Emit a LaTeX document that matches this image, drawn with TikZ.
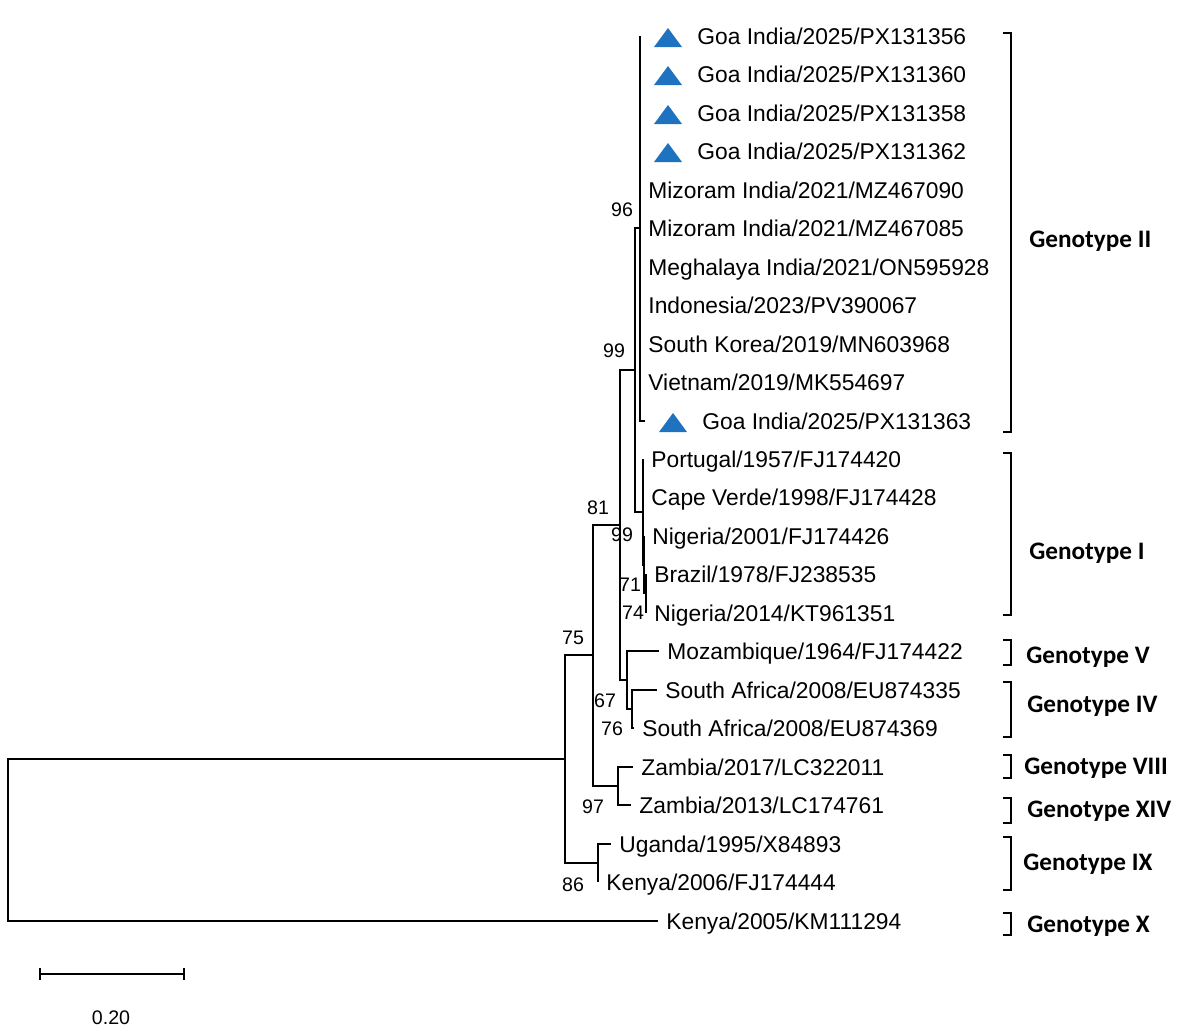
\documentclass[tikz,border=0pt]{standalone}
\usepackage{fontspec}
\setmainfont{Liberation Sans}
\newfontfamily\genofont{Carlito}
\usetikzlibrary{positioning}

\definecolor{goablue}{RGB}{30,114,192}

\tikzset{
    branch/.style={line width=0.65pt},
    taxon/.style={anchor=west, inner sep=0pt, text height=8.2pt, text depth=0pt, font=\fontsize{11.4}{13}\selectfont},
    boot/.style={inner sep=0pt, font=\fontsize{9.8}{11}\selectfont},
    clade/.style={line width=1.1pt},
    genotype/.style={anchor=west, inner sep=0pt, text height=7.9pt, text depth=0pt, font=\genofont\bfseries\fontsize{12.6}{14}\selectfont},
    goamark/.pic={\fill[goablue] (-14,11) -- (14,11) -- (0,-8) -- cycle;}
}

\begin{document}
\begin{tikzpicture}[x=0.5pt, y=-0.5pt]
    \useasboundingbox (0,0) rectangle (1181,1034);

    % Internal nodes
    \coordinate (root) at (8,840);
    \coordinate (n0) at (565,759);
    \coordinate (n75) at (593,655);
    \coordinate (n86) at (598,863);
    \coordinate (n81) at (620,525);
    \coordinate (n97) at (618,786);
    \coordinate (n99a) at (635,370);
    \coordinate (n67) at (627,680);
    \coordinate (n76) at (632,709);
    \coordinate (n96) at (640,228);
    \coordinate (n99b) at (643,512);
    \coordinate (n71) at (644,565);
    \coordinate (n74) at (646,593);

    % Leaves
    \coordinate (l1) at (640,36);
    \coordinate (l2) at (640,74);
    \coordinate (l3) at (640,113);
    \coordinate (l4) at (640,151);
    \coordinate (l5) at (640,190);
    \coordinate (l6) at (640,228);
    \coordinate (l7) at (640,267);
    \coordinate (l8) at (640,305);
    \coordinate (l9) at (640,344);
    \coordinate (l10) at (640,382);
    \coordinate (l11) at (645,421);
    \coordinate (l12) at (643,459);
    \coordinate (l13) at (643,497);
    \coordinate (l14) at (644,536);
    \coordinate (l15) at (646,574);
    \coordinate (l16) at (646,613);
    \coordinate (l17) at (659,651);
    \coordinate (l18) at (657,690);
    \coordinate (l19) at (634,728);
    \coordinate (l20) at (633,767);
    \coordinate (l21) at (631,805);
    \coordinate (l22) at (611,844);
    \coordinate (l23) at (598,882);
    \coordinate (l24) at (658,921);

    % Branches
    \draw[branch] (root) |- (n0);
    \draw[branch] (root) |- (l24);
    \draw[branch] (n0) |- (n75);
    \draw[branch] (n0) |- (n86);
    \draw[branch] (n86) |- (l22);
    \draw[branch] (n86) |- (l23);
    \draw[branch] (n75) |- (n81);
    \draw[branch] (n75) |- (n97);
    \draw[branch] (n97) |- (l20);
    \draw[branch] (n97) |- (l21);
    \draw[branch] (n81) |- (n99a);
    \draw[branch] (n81) |- (n67);
    \draw[branch] (n67) |- (l17);
    \draw[branch] (n67) |- (n76);
    \draw[branch] (n76) |- (l18);
    \draw[branch] (n76) |- (l19);
    \draw[branch] (n99a) |- (n96);
    \draw[branch] (n99a) |- (n99b);
    \foreach \i in {1,...,11} {
        \draw[branch] (n96) |- (l\i);
    }
    \draw[branch] (n99b) |- (l12);
    \draw[branch] (n99b) |- (l13);
    \draw[branch] (n99b) |- (n71);
    \draw[branch] (n71) |- (l14);
    \draw[branch] (n71) |- (n74);
    \draw[branch] (n74) |- (l15);
    \draw[branch] (n74) |- (l16);

    % Goa markers
    \foreach \i in {1,...,4,11} {
        \pic at ([xshift=14pt]l\i) {goamark};
    }

    % Taxon names
    \node[taxon] (t1) at ([xshift=28.5pt]l1) {Goa India/2025/PX131356};
    \node[taxon] (t2) at ([xshift=28.5pt]l2) {Goa India/2025/PX131360};
    \node[taxon] (t3) at ([xshift=28.5pt]l3) {Goa India/2025/PX131358};
    \node[taxon] (t4) at ([xshift=28.5pt]l4) {Goa India/2025/PX131362};
    \node[taxon, right=4pt of l5] (t5) {Mizoram India/2021/MZ467090};
    \node[taxon, right=4pt of l6] (t6) {Mizoram India/2021/MZ467085};
    \node[taxon, right=4pt of l7] (t7) {Meghalaya India/2021/ON595928};
    \node[taxon, right=4pt of l8] (t8) {Indonesia/2023/PV390067};
    \node[taxon, right=4pt of l9] (t9) {South Korea/2019/MN603968};
    \node[taxon, right=4pt of l10] (t10) {Vietnam/2019/MK554697};
    \node[taxon] (t11) at ([xshift=28.5pt]l11) {Goa India/2025/PX131363};
    \node[taxon, right=4pt of l12] (t12) {Portugal/1957/FJ174420};
    \node[taxon, right=4pt of l13] (t13) {Cape Verde/1998/FJ174428};
    \node[taxon, right=4pt of l14] (t14) {Nigeria/2001/FJ174426};
    \node[taxon, right=4pt of l15] (t15) {Brazil/1978/FJ238535};
    \node[taxon, right=4pt of l16] (t16) {Nigeria/2014/KT961351};
    \node[taxon, right=4pt of l17] (t17) {Mozambique/1964/FJ174422};
    \node[taxon, right=4pt of l18] (t18) {South Africa/2008/EU874335};
    \node[taxon, right=4pt of l19] (t19) {South Africa/2008/EU874369};
    \node[taxon, right=4pt of l20] (t20) {Zambia/2017/LC322011};
    \node[taxon, right=4pt of l21] (t21) {Zambia/2013/LC174761};
    \node[taxon, right=4pt of l22] (t22) {Uganda/1995/X84893};
    \node[taxon, right=4pt of l23] (t23) {Kenya/2006/FJ174444};
    \node[taxon, right=4pt of l24] (t24) {Kenya/2005/KM111294};

    % Bootstrap values
    \node[boot] (b96) at (622,210) {96};
    \node[boot] (b99a) at (614,351) {99};
    \node[boot] (b81) at (598,508) {81};
    \node[boot] (b75) at (573,638) {75};
    \node[boot] (b99b) at (622,535) {99};
    \node[boot] (b71) at (630,585) {71};
    \node[boot] (b74) at (633,613) {74};
    \node[boot] (b67) at (605,701) {67};
    \node[boot] (b76) at (612,729) {76};
    \node[boot] (b97) at (593,807) {97};
    \node[boot] (b86) at (573,885) {86};

    % Genotype brackets
    \foreach \ya/\yb/\yl/\xl/\gname/\gid in {33/432/240/1029/II/g2, 453/615/552/1029/I/g1,
            640/665/656/1026/V/g5, 682/737/705/1027/IV/g4, 755/778/767/1024/VIII/g8,
            798/823/810/1027/XIV/g14, 837/890/863/1023/IX/g9, 913/935/925/1027/X/g10} {
        \draw[clade] (1003,\ya) -- (1011,\ya) -- (1011,\yb) -- (1003,\yb);
        \node[genotype] (\gid) at (\xl,\yl) {Genotype \gname};
    }

    % Scale bar
    \coordinate (s0) at (40,974);
    \coordinate (s1) at (184,974);
    \draw[branch] (s0) -- (s1);
    \draw[branch] ([yshift=3pt]s0) -- ([yshift=-3pt]s0);
    \draw[branch] ([yshift=3pt]s1) -- ([yshift=-3pt]s1);
    \node[boot] (scale) at (111,1018) {0.20};
\end{tikzpicture}
\end{document}
